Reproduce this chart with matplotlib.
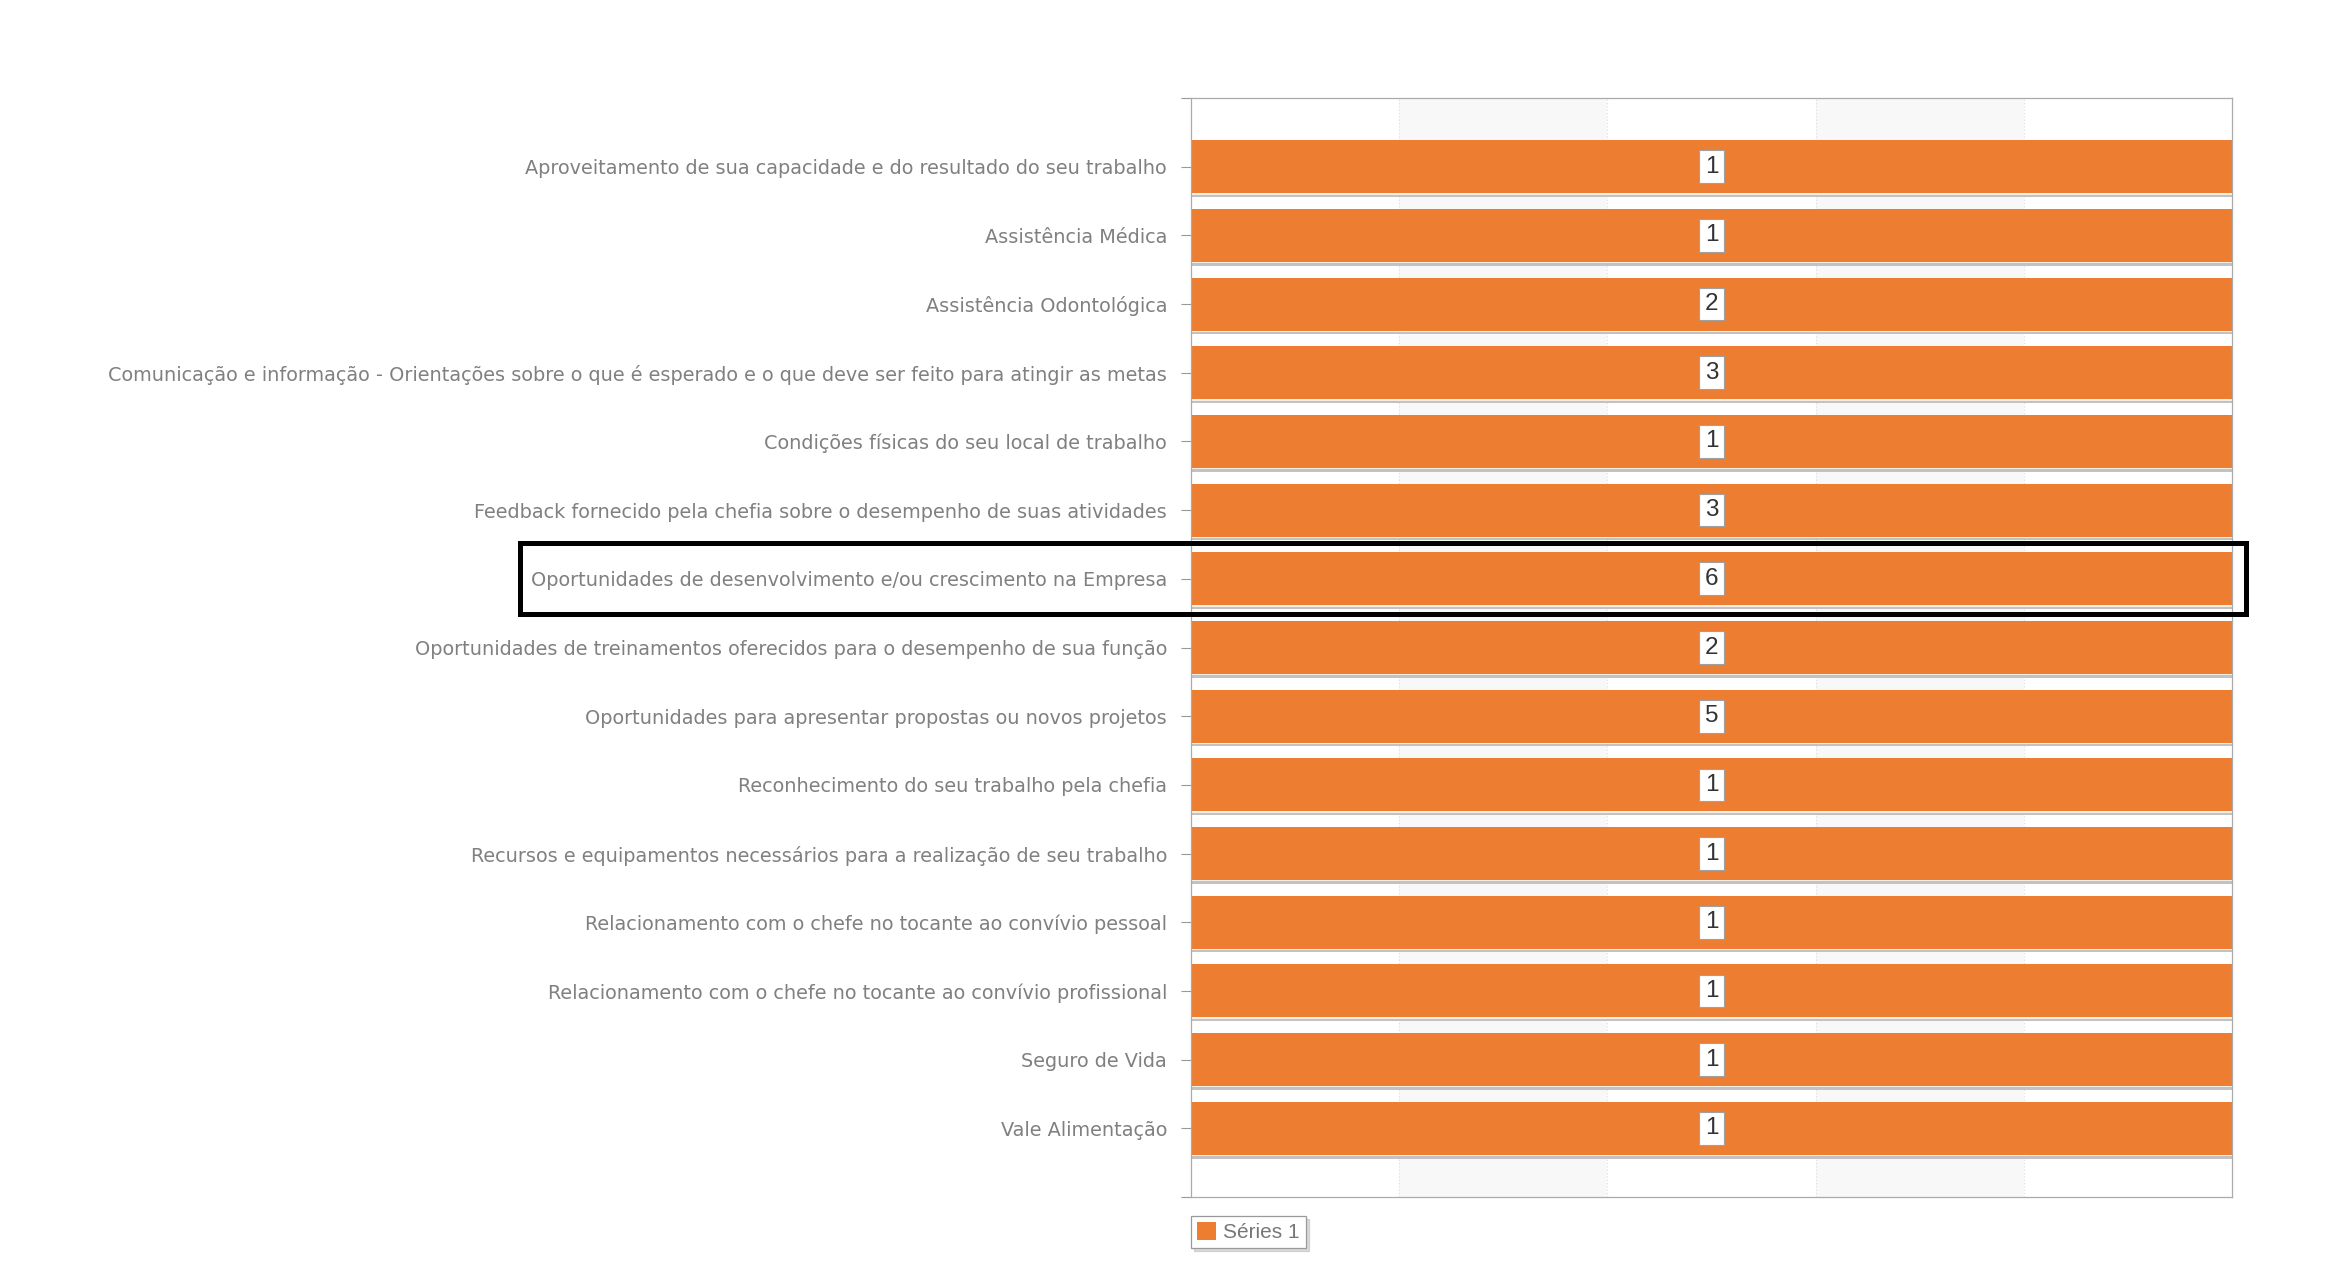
import numpy as np
import matplotlib
matplotlib.use("Agg")
import matplotlib.pyplot as plt
from matplotlib.patches import Rectangle
from matplotlib.transforms import blended_transform_factory

# survey categories (top to bottom) and answer counts of "Séries 1"
categories = [
    "Aproveitamento de sua capacidade e do resultado do seu trabalho",
    "Assistência Médica",
    "Assistência Odontológica",
    "Comunicação e informação - Orientações sobre o que é esperado e o que deve ser feito para atingir as metas",
    "Condições físicas do seu local de trabalho",
    "Feedback fornecido pela chefia sobre o desempenho de suas atividades",
    "Oportunidades de desenvolvimento e/ou crescimento na Empresa",
    "Oportunidades de treinamentos oferecidos para o desempenho de sua função",
    "Oportunidades para apresentar propostas ou novos projetos",
    "Reconhecimento do seu trabalho pela chefia",
    "Recursos e equipamentos necessários para a realização de seu trabalho",
    "Relacionamento com o chefe no tocante ao convívio pessoal",
    "Relacionamento com o chefe no tocante ao convívio profissional",
    "Seguro de Vida",
    "Vale Alimentação",
]
values = [1, 1, 2, 3, 1, 3, 6, 2, 5, 1, 1, 1, 1, 1, 1]
series_name = "Séries 1"
highlighted = "Oportunidades de desenvolvimento e/ou crescimento na Empresa"

ORANGE = "#ED7D31"

# 100% stacked with a single series -> every bar is the full width
vals = np.array(values, dtype=float)
pct = vals / vals * 100
y = np.arange(len(categories))
h = 0.77

fig = plt.figure(figsize=(23.36, 12.64), dpi=100)
ax = fig.add_axes([1191 / 2336, 1 - 1197 / 1264, (2232 - 1191) / 2336, (1197 - 98) / 1264])
ax.set_facecolor("white")

# alternating plot bands + dotted grid
for lo, hi in [(20, 40), (60, 80)]:
    ax.axvspan(lo, hi, color="#f8f8f8", zorder=0, lw=0)
for gx in [20, 40, 60, 80]:
    ax.axvline(gx, color="#dddddd", lw=0.8, ls=(0, (1, 2)), zorder=0.5)

# bar shadow, light edge, bar
ax.barh(y + 0.055, pct, height=h, color="#c2c2c2", zorder=1)
ax.barh(y + 0.02, pct, height=h, color="#f6efe6", zorder=1.5)
ax.barh(y, pct, height=h, color=ORANGE, zorder=2, label=series_name)

for yi, v, p in zip(y, values, pct):
    ax.text(p / 2, yi, str(v), ha="center", va="center", fontsize=17.5,
            family=["Liberation Sans", "DejaVu Sans"], color="#333333", zorder=4,
            bbox=dict(boxstyle="square,pad=0.22", fc="white", ec="#a0a0a0", lw=0.8))

ax.set_xlim(0, 100)
ax.set_ylim(15, -1)
ax.set_yticks(y)
ax.set_yticklabels(categories, fontsize=13.9, color="#808080", family="DejaVu Sans")
ax.set_yticks([-1, 15], minor=True)
ax.tick_params(axis="y", which="both", length=7.2, width=0.8, color="#999999", pad=10)
ax.tick_params(axis="x", bottom=False, labelbottom=False)
for s in ax.spines.values():
    s.set_color("#aaaaaa")
    s.set_linewidth(0.9)

# highlight frame around one row
i = categories.index(highlighted)
trans = blended_transform_factory(fig.transFigure, ax.transData)
x0, x1 = 519.5 / 2336, 2245.5 / 2336
ax.add_patch(Rectangle((x0, i - 0.517), x1 - x0, 1.034, transform=trans, fill=False,
                       ec="black", lw=3.6, clip_on=False, zorder=10))

leg = fig.legend(loc="upper left", bbox_to_anchor=(1191 / 2336, 1 - 1216 / 1264),
                 borderaxespad=0, fancybox=False, frameon=True,
                 shadow={"color": "#999999", "alpha": 0.35},
                 prop={"family": ["Liberation Sans", "DejaVu Sans"], "size": 15},
                 handlelength=0.9, handleheight=0.9, handletextpad=0.35,
                 borderpad=0.3)
leg.get_frame().set_edgecolor("#999999")
leg.get_frame().set_linewidth(0.9)
for t in leg.get_texts():
    t.set_color("#777777")

fig.savefig("out.png", dpi=100, facecolor="white")
